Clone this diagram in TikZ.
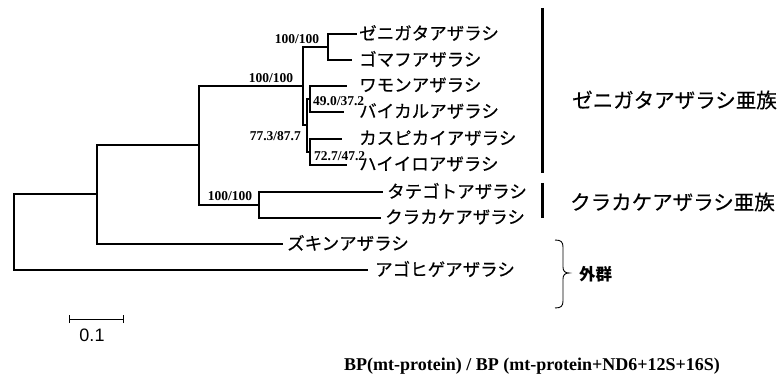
\documentclass[tikz,border=0pt]{standalone}
\usepackage{fontspec}
\setmainfont{Liberation Serif}
\newfontfamily\jp[FakeBold=0.4]{Noto Sans CJK JP}
\newfontfamily\jpb{Noto Sans CJK JP}
\newfontfamily\arialf{Liberation Sans}
\begin{document}
\begin{tikzpicture}[x=1pt,y=-1pt,
  br/.style={line width=1.5pt,line cap=rect,line join=miter},
  leaf/.style={anchor=west,inner sep=0pt,font=\jp\fontsize{17.5}{18}\selectfont},
  boot/.style={inner sep=0pt,font=\bfseries\fontsize{13.5}{14}\selectfont},
  grp/.style={anchor=west,inner sep=0pt,font=\jp\fontsize{20.5}{22}\selectfont},
  grpbar/.style={line width=3pt},
  scalebar/.style={line width=1pt}]
\useasboundingbox (0,0) rectangle (781,387);
\fill[white] (0,0) rectangle (781,387);
% tree coordinates
\coordinate (r) at (14,232);
\coordinate (n1) at (97,194);
\coordinate (n2) at (199,145);
\coordinate (n3) at (303,86);
\coordinate (n4) at (259,205);
\coordinate (n5) at (328,47);
\coordinate (n6) at (307,125);
\coordinate (n7) at (310,99);
\coordinate (n8) at (310,152);
\coordinate (agohige) at (367,270);
\coordinate (zukin) at (282,244);
\coordinate (tategoto) at (382,192);
\coordinate (kurakake) at (380,218);
\coordinate (zenigata) at (356,34);
\coordinate (gomafu) at (351,60);
\coordinate (wamon) at (346,86);
\coordinate (baikal) at (343,112);
\coordinate (kaspi) at (341,139);
\coordinate (haiiro) at (346,165);
% branches
\draw[br] (r) |- (n1);
\draw[br] (r) |- (agohige);
\draw[br] (n1) |- (n2);
\draw[br] (n1) |- (zukin);
\draw[br] (n2) |- (n3);
\draw[br] (n2) |- (n4);
\draw[br] (n3) |- (n5);
\draw[br] (n3) |- (n6);
\draw[br] (n5) |- (zenigata);
\draw[br] (n5) |- (gomafu);
\draw[br] (n4) |- (tategoto);
\draw[br] (n4) |- (kurakake);
\draw[br] (n6) |- (n7);
\draw[br] (n6) |- (n8);
\draw[br] (n7) |- (wamon);
\draw[br] (n7) |- (baikal);
\draw[br] (n8) |- (kaspi);
\draw[br] (n8) |- (haiiro);
% leaf labels
\node[leaf] (lzen) at (359,33) {ゼニガタアザラシ};
\node[leaf] (lgom) at (359,59) {ゴマフアザラシ};
\node[leaf] (lwam) at (359,85) {ワモンアザラシ};
\node[leaf] (lbai) at (359,111) {バイカルアザラシ};
\node[leaf] (lkas) at (359,138) {カスピカイアザラシ};
\node[leaf] (lhai) at (359,164) {ハイイロアザラシ};
\node[leaf] (ltat) at (387,191) {タテゴトアザラシ};
\node[leaf] (lkur) at (385,217) {クラカケアザラシ};
\node[leaf] (lzuk) at (287,243) {ズキンアザラシ};
\node[leaf] (lago) at (375,269) {アゴヒゲアザラシ};
% bootstrap values
\node[boot] (b1) at (297,39) {100/100};
\node[boot] (b2) at (271,78) {100/100};
\node[boot,anchor=west] (b3) at (313,101) {49.0/37.2};
\node[boot,anchor=east] (b4) at (301,136) {77.3/87.7};
\node[boot,anchor=west] (b5) at (314,156) {72.7/47.2};
\node[boot] (b6) at (230,196) {100/100};
% group bars and labels
\draw[grpbar] (542,8) -- (542,173);
\draw[grpbar] (542,183) -- (542,218);
\node[grp] (g1) at (572,100) {ゼニガタアザラシ亜族};
\node[grp] (g2) at (570,202) {クラカケアザラシ亜族};
% outgroup brace
\draw[line width=0.9pt] (555,240) .. controls (561,240) and (563,242) .. (563,247) -- (563,267)
  .. controls (563,271) and (565,273) .. (569,273)
  .. controls (565,273) and (563,275) .. (563,279) -- (563,301)
  .. controls (563,306) and (561,308) .. (555,308);
\node[anchor=west,inner sep=0pt,font=\jpb\bfseries\fontsize{16.5}{17}\selectfont] (g3) at (579,274) {外群};
% scale bar
\coordinate (sa) at (69,319);
\coordinate (sb) at (123,319);
\draw[scalebar] (sa) -- (sb);
\draw[scalebar] ([yshift=-4pt]sa) -- ([yshift=4pt]sa);
\draw[scalebar] ([yshift=-4pt]sb) -- ([yshift=4pt]sb);
\node[inner sep=0pt,font=\arialf\fontsize{18}{19}\selectfont] (sl) at (92,335) {0.1};
% caption
\node[anchor=east,inner sep=0pt,font=\bfseries\fontsize{18}{19}\selectfont] (cap) at (720,366) {BP(mt-protein) / BP (mt-protein+ND6+12S+16S)};
\end{tikzpicture}
\end{document}
